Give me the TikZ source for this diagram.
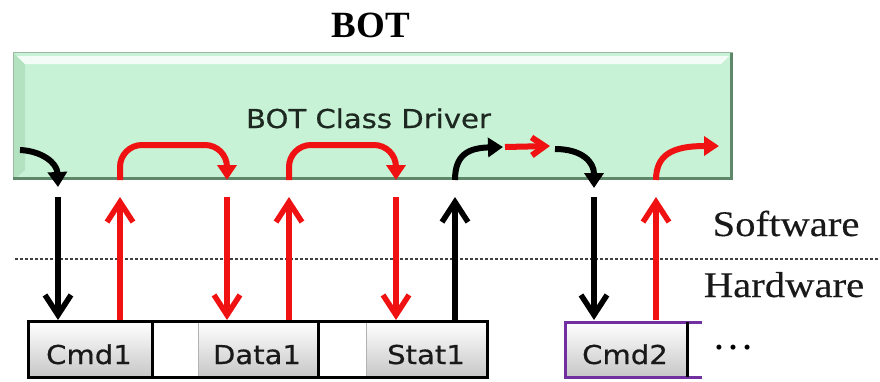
\documentclass[tikz,border=0pt]{standalone}
\usepackage{fontspec}
\setmainfont{Liberation Serif}
\newfontfamily\tah[FakeStretch=1.12,FakeBold=0.6]{DejaVu Sans}
\newfontfamily\tnr[FakeStretch=1.13,FakeBold=0.3]{Liberation Serif}
\usetikzlibrary{arrows.meta,calc}
\definecolor{mint}{RGB}{200,242,214}
\definecolor{mintside}{RGB}{178,226,192}
\definecolor{mintdark}{RGB}{95,135,105}
\definecolor{arrred}{RGB}{240,18,18}
\definecolor{purp}{RGB}{112,48,160}
\definecolor{txtdark}{RGB}{28,40,32}
\begin{document}
\begin{tikzpicture}[x=1pt,y=-1pt,
  vbar/.style={line width=5.5pt,-{Straight Barb[length=20pt,width=26pt]}},
  cbar/.style={line width=6pt,-{Triangle[length=15pt,width=19pt]}},
  sbar/.style={line width=6pt,-{Straight Barb[length=13pt,width=18pt]}},
  cellbox/.style={inner sep=0pt,minimum height=55pt,top color=white,bottom color=black!22,draw=black!30,line width=0.8pt},
  celltxt/.style={font=\tah\fontsize{26}{30}\selectfont,text=black!90,anchor=base,inner sep=0pt},
  side/.style={font=\tnr\fontsize{36}{40}\selectfont,text=black!90,anchor=base,inner sep=0pt},
  frame/.style={line width=3pt,draw=black},
  dashline/.style={line width=1.3pt,draw=black!75,dash pattern=on 3pt off 2pt}
]
\useasboundingbox (0,0) rectangle (880,381);

% title
\node[font=\rmfamily\bfseries\fontsize{37}{40}\selectfont,anchor=base,inner sep=0pt] (title) at (371,37) {BOT};

% driver box
\node[fill=mint,minimum width=720pt,minimum height=128pt,inner sep=0pt,anchor=north west] (drv) at (13,52) {};
\fill[mintside] (drv.north west) -- (25,64) -- (25,170) -- (drv.south west) -- cycle;
\fill[white!80!mint] (17,56) -- (729,56) -- (721,64) -- (25,64) -- cycle;
\draw[mintdark!60,line width=1pt] (drv.south west) -- (drv.north west) -- (drv.north east);
\draw[mintdark,line width=3pt] (13,178.5) -- (731.5,178.5) -- (731.5,53);
\node[font=\tah\fontsize{26}{30}\selectfont,text=txtdark,anchor=base,inner sep=0pt] (drvlabel) at (368.5,128) {BOT Class Driver};

% dashed separator
\coordinate (dl) at (15,259);
\coordinate (dr) at (880,259);
\draw[dashline] (dl) -- (dr);
\node[side] (sw) at (786,236) {Software};
\node[side] (hw) at (784,297) {Hardware};

% hardware cells
\node[cellbox,minimum width=122pt] (cmd1) at (90,349.5) {};
\node[cellbox,minimum width=119pt] (data1) at (257.5,349.5) {};
\node[cellbox,minimum width=120pt] (stat1) at (426,349.5) {};
\node[cellbox,minimum width=121pt] (cmd2) at (625.5,349.5) {};
\draw[frame] (28,321) rectangle (487,377);
\draw[frame] (152,321) -- (152,377);
\draw[frame] (318,321) -- (318,377);
\draw[line width=3pt,draw=purp] (702,322) -- (565,322) -- (565,377) -- (702,377);
\draw[frame] (687,322) -- (687,377);
\node[celltxt] (t1) at (89,364) {Cmd1};
\node[celltxt] (t2) at (257,364) {Data1};
\node[celltxt] (t3) at (426,364) {Stat1};
\node[celltxt] (t4) at (625,364) {Cmd2};
\node[font=\rmfamily\fontsize{42}{46}\selectfont,text=black,anchor=base,inner sep=0pt] (dots) at (733,349) {…};

% vertical arrows
\foreach \n/\x in {a/58,b/120,c/227,d/289,e/396,f/455,g/594,h/656}{
  \coordinate (\n top) at (\x,197);
  \coordinate (\n bot) at (\x,320);
}
\draw[vbar] (atop) -- (abot);
\draw[vbar,arrred] (bbot) -- (btop);
\draw[vbar,arrred] (ctop) -- (cbot);
\draw[vbar,arrred] (dbot) -- (dtop);
\draw[vbar,arrred] (etop) -- (ebot);
\draw[vbar] (fbot) -- (ftop);
\draw[vbar] (gtop) -- (gbot);
\draw[vbar,arrred] (hbot) -- (htop);

% curved arrows inside driver
\coordinate (c1s) at (20,150);  \coordinate (c1e) at (58,187);
\draw[cbar] (c1s) .. controls (42,151) and (57,163) .. (c1e);
\coordinate (c2s) at (120,180); \coordinate (c2e) at (227,180);
\draw[cbar,arrred,rounded corners=22pt] (c2s) -- (120,145) -- (227,145) -- (c2e);
\coordinate (c3s) at (289,180); \coordinate (c3e) at (396,180);
\draw[cbar,arrred,rounded corners=22pt] (c3s) -- (289,145) -- (396,145) -- (c3e);
\coordinate (c4s) at (455,180); \coordinate (c4e) at (503,147);
\draw[cbar] (c4s) .. controls (455,155) and (468,148) .. (c4e);
\coordinate (c5s) at (505,147); \coordinate (c5e) at (550,146);
\draw[sbar,arrred] (c5s) -- (c5e);
\coordinate (c6s) at (555,149); \coordinate (c6e) at (594,188);
\draw[cbar] (c6s) .. controls (582,149) and (594,162) .. (c6e);
\coordinate (c7s) at (656,180); \coordinate (c7e) at (719,146);
\draw[cbar,arrred] (c7s) .. controls (656,155) and (672,146) .. (c7e);
\end{tikzpicture}
\end{document}
